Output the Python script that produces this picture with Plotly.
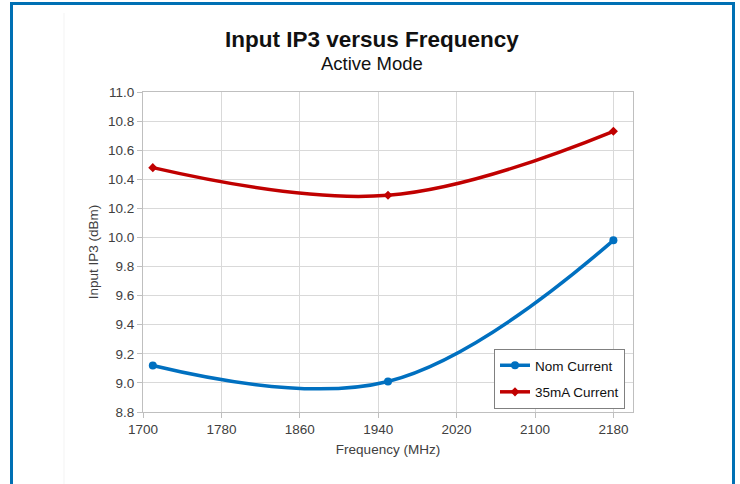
import plotly.graph_objects as go

# ---- data ----
freq_mhz = [1710, 1950, 2180]
nom_current = [9.12, 9.01, 9.98]
ma35_current = [10.48, 10.29, 10.73]
series_names = ["Nom Current", "35mA Current"]
x_ticks = [1700, 1780, 1860, 1940, 2020, 2100, 2180]
y_ticks = [8.8, 9.0, 9.2, 9.4, 9.6, 9.8, 10.0, 10.2, 10.4, 10.6, 10.8, 11.0]

W, H = 740, 484
L, R, T, B = 143, 633, 92, 412

def px2x(px):
    return (px - L) / (R - L)

def py2y(py):
    return (B - py) / (B - T)

FONT = "Liberation Sans, Arial, sans-serif"
TXT = "#404040"

fig = go.Figure()
fig.add_trace(go.Scatter(
    x=freq_mhz, y=nom_current, name=series_names[0], mode="lines+markers",
    line=dict(color="#0070c0", width=3.5, shape="spline", smoothing=1.1),
    marker=dict(symbol="circle", size=8, color="#0070c0"),
    legendgroup="a",
))
fig.add_trace(go.Scatter(
    x=freq_mhz, y=ma35_current, name=series_names[1], mode="lines+markers",
    line=dict(color="#c00000", width=3.5, shape="spline", smoothing=1.1),
    marker=dict(symbol="diamond", size=7, color="#c00000"),
    legendgroup="b",
))

axis_common = dict(
    showgrid=True, gridcolor="#d9d9d9", gridwidth=1,
    showline=True, linecolor="#bfbfbf", linewidth=1, mirror=True,
    ticks="outside", ticklen=5, tickcolor="#bfbfbf",
    tickfont=dict(family=FONT, size=13.5, color=TXT),
    zeroline=False,
)

fig.update_xaxes(
    range=[1700, 2200], tickmode="array", tickvals=x_ticks,
    ticktext=[str(v) for v in x_ticks],
    title=dict(text="Frequency (MHz)", font=dict(family=FONT, size=13.5, color=TXT), standoff=8),
    **axis_common,
)
fig.update_yaxes(
    range=[8.8, 11.0], tickmode="array", tickvals=y_ticks,
    ticktext=[f"{v:.1f}" for v in y_ticks],
    title=dict(text="Input IP3 (dBm)", font=dict(family=FONT, size=13.5, color=TXT), standoff=6),
    **axis_common,
)

shapes = []
blue = "#0070b4"
# outer blue frame (left, top, right)
shapes.append(dict(type="rect", xref="paper", yref="paper",
                   x0=px2x(10), x1=px2x(13), y0=py2y(490), y1=py2y(2),
                   fillcolor=blue, line=dict(width=0), layer="above"))
shapes.append(dict(type="rect", xref="paper", yref="paper",
                   x0=px2x(10), x1=px2x(735), y0=py2y(5), y1=py2y(2),
                   fillcolor=blue, line=dict(width=0), layer="above"))
shapes.append(dict(type="rect", xref="paper", yref="paper",
                   x0=px2x(732), x1=px2x(735), y0=py2y(490), y1=py2y(2),
                   fillcolor=blue, line=dict(width=0), layer="above"))
# faint chart-area edge
shapes.append(dict(type="line", xref="paper", yref="paper",
                   x0=px2x(64), x1=px2x(64), y0=py2y(484), y1=py2y(13),
                   line=dict(color="#f3f3f3", width=1)))

annotations = [
    dict(text="<b>Input IP3 versus Frequency</b>", xref="paper", yref="paper",
         x=px2x(372), y=py2y(39), xanchor="center", yanchor="middle",
         showarrow=False, font=dict(family=FONT, size=22.5, color="#111111")),
    dict(text="Active Mode", xref="paper", yref="paper",
         x=px2x(372), y=py2y(63.5), xanchor="center", yanchor="middle",
         showarrow=False, font=dict(family=FONT, size=18.5, color="#111111")),
]

fig.update_layout(
    width=W, height=H,
    margin=dict(l=L, r=W - R, t=T, b=H - B, pad=0),
    paper_bgcolor="white", plot_bgcolor="white",
    showlegend=True,
    legend=dict(
        x=px2x(494), y=py2y(349), xanchor="left", yanchor="top",
        bgcolor="white", bordercolor="#808080", borderwidth=1,
        font=dict(family=FONT, size=13.5, color="#111111"),
        traceorder="grouped", tracegroupgap=6,
    ),
    shapes=shapes,
    annotations=annotations,
)

fig.write_html(
    "out.html",
    config={"displayModeBar": False},
    post_script="document.body.style.margin='0';document.body.style.overflow='hidden';",
)
